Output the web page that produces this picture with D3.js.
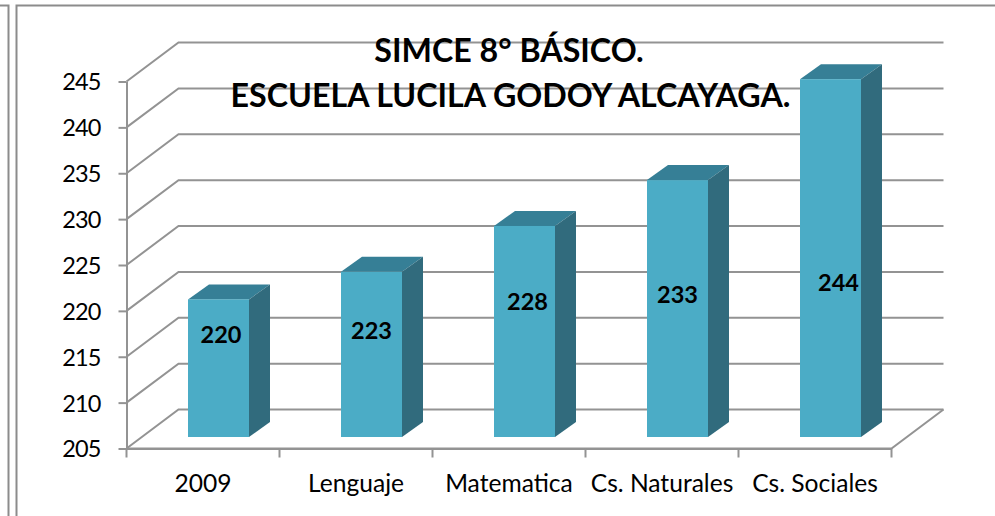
<!DOCTYPE html>
<html><head><meta charset="utf-8"><script src="https://cdnjs.cloudflare.com/ajax/libs/d3/7.8.5/d3.min.js"></script>
<style>html,body{margin:0;padding:0;background:#fff}svg{display:block}text{font-family:Lato,"Open Sans",sans-serif;fill:#000}</style></head><body>
<script>
const categories=["2009","Lenguaje","Matematica","Cs. Naturales","Cs. Sociales"];
const values=[220,223,228,233,244];
const yTicks=[205,210,215,220,225,230,235,240,245];
const titleLines=["SIMCE 8° BÁSICO.","ESCUELA LUCILA GODOY ALCAYAGA."];
const labelLevels=[216.2,216.6,219.8,220.5,221.8];
const labelShift=[2.5,0,3,0,8];
const W=995,H=516;
const svg=d3.select("body").append("svg").attr("width",W).attr("height",H);
const frame="#8c8c8c",grid="#939393";
const x=d3.scaleBand().domain(categories).range([126.5,891.5]);
const y=d3.scaleLinear().domain([205,245]).range([448.5,81.5]);
const dx=52,dy=-39;
const bdx=21,bdy=-15;
const barInsetX=61.5,barW=61,barFrontDy=-11.5;
const f=svg.append("g").attr("fill","none").attr("stroke",frame).attr("stroke-width",2);
f.append("path").attr("d","M0,5.5H8.5V516");
f.append("path").attr("d","M995,5.5H16.5V516");
const g=svg.append("g").attr("fill","none").attr("stroke",grid).attr("stroke-width",2);
yTicks.forEach(t=>{
  g.append("path").attr("d",`M${x.range()[0]},${y(t)}L${x.range()[0]+dx},${y(t)+dy}H${x.range()[1]+dx}`);
});
g.append("path").attr("d",`M${x.range()[0]},${y(205)}H${x.range()[1]}L${x.range()[1]+dx},${y(205)+dy}`);
const ya=svg.append("g").attr("transform",`translate(${x.range()[0]},0)`).call(d3.axisLeft(y).tickValues(yTicks).tickSize(8).tickSizeOuter(0).tickPadding(18));
ya.selectAll("text").attr("font-size",23.5).attr("letter-spacing",-0.9).attr("dy","0.36em");
const xa=svg.append("g").attr("transform",`translate(0,${y(205)})`).call(d3.axisBottom(x).tickSize(0).tickPadding(26));
xa.selectAll("text").attr("font-size",24.6);
[...categories.map(c=>x(c)),x.range()[1]].forEach(p=>xa.append("line").attr("x1",p).attr("x2",p).attr("y1",0).attr("y2",9).attr("stroke",grid).attr("stroke-width",2));
[ya,xa].forEach(a=>{a.selectAll("path.domain").attr("stroke",grid).attr("stroke-width",2);a.selectAll(".tick line").attr("stroke",grid).attr("stroke-width",2)});
const bars=svg.append("g").selectAll("g").data(categories).join("g");
const bx=c=>x(c)+barInsetX, baseY=y(205)+barFrontDy, topY=v=>y(v)+barFrontDy;
bars.append("path").attr("fill","#367f96").attr("d",(c,i)=>{const X=bx(c),T=topY(values[i]);return `M${X},${T}l${bdx},${bdy}h${barW}l${-bdx},${-bdy}Z`});
bars.append("path").attr("fill","#316b7d").attr("d",(c,i)=>{const X=bx(c)+barW,T=topY(values[i]);return `M${X},${T}l${bdx},${bdy}V${baseY+bdy}L${X},${baseY}Z`});
bars.append("rect").attr("fill","#4bacc6").attr("x",c=>bx(c)).attr("width",barW).attr("y",(c,i)=>topY(values[i])).attr("height",(c,i)=>baseY-topY(values[i]));
bars.append("text").attr("text-anchor","middle").attr("font-weight",700).attr("font-size",23.5)
 .attr("x",(c,i)=>bx(c)+barW/2+labelShift[i]).attr("y",(c,i)=>topY(labelLevels[i])).attr("dy","0.36em").text((c,i)=>values[i]);
const tt=svg.append("g").attr("text-anchor","middle").attr("font-weight",700).attr("font-size",32.2);
titleLines.forEach((l,i)=>tt.append("text").attr("x",i?510.5:509).attr("y",i?107:62).text(l));
</script></body></html>
